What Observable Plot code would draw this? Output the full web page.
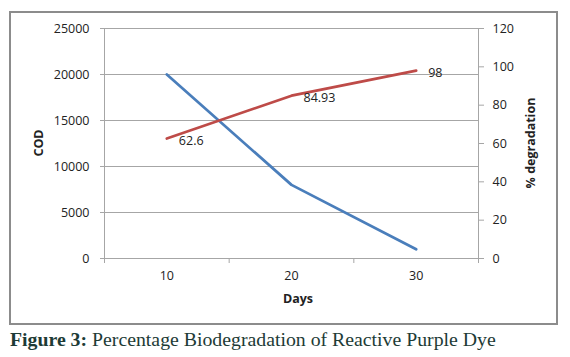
<!DOCTYPE html>
<html>
<head>
<meta charset="utf-8">
<script src="https://cdn.jsdelivr.net/npm/d3@7"></script>
<script src="https://cdn.jsdelivr.net/npm/@observablehq/plot@0.6"></script>
<style>
  html, body { margin: 0; padding: 0; background: #fff; }
  #wrap { position: relative; width: 570px; height: 328px; }
  #caption { font-family: "Liberation Serif", "Times New Roman", serif; font-size: 19.8px; line-height: 22px; color: #1d3b36; margin: 0 0 0 10px; white-space: nowrap; }
  #caption b { font-weight: bold; }
</style>
</head>
<body>
<div id="wrap"></div>
<div id="caption"><b>Figure 3:</b> Percentage Biodegradation of Reactive Purple Dye</div>
<script>
const days = [10, 20, 30];
const cod = [20000, 8000, 1000];
const degradation = [62.6, 84.93, 98];
const leftTicks = [0, 5000, 10000, 15000, 20000, 25000];
const rightTicks = [0, 20, 40, 60, 80, 100, 120];
const xBoundaries = [5, 15, 25, 35];

const yMax = 25000, rMax = 120;
const toY = v => v * yMax / rMax;

const codData = days.map((d, i) => ({day: d, value: cod[i]}));
const degData = days.map((d, i) => ({day: d, pct: degradation[i], value: toY(degradation[i])}));

const font = "'Open Sans', 'Liberation Sans', sans-serif";
const axisColor = "#a6a6a6";

const chart = Plot.plot({
  width: 570,
  height: 328,
  marginLeft: 104,
  marginRight: 92,
  marginTop: 28,
  marginBottom: 70,
  style: {fontFamily: font, fontSize: "12px", color: "#222", background: "#fff"},
  x: {domain: [5, 35], label: null},
  y: {domain: [0, yMax], label: null},
  marks: [
    Plot.gridY(leftTicks.slice(1), {stroke: axisColor, strokeOpacity: 1, strokeWidth: 1}),
    Plot.ruleX([5], {stroke: axisColor}),
    Plot.ruleX([35], {stroke: axisColor}),
    Plot.ruleY([0], {stroke: axisColor}),
    Plot.axisY(leftTicks, {anchor: "left", tickSize: 4, tickPadding: 11, stroke: axisColor, tickFormat: d => String(d), fontSize: 12.5, fill: "#222", label: null}),
    Plot.axisY(rightTicks.map(toY), {anchor: "right", tickSize: 5, tickPadding: 9, stroke: axisColor, tickFormat: d => String(Math.round(d * rMax / yMax)), fontSize: 12.5, fill: "#222", label: null}),
    Plot.axisX(xBoundaries, {tickSize: 5, stroke: axisColor, tickFormat: () => "", label: null}),
    Plot.axisX(days, {tickSize: 0, tickPadding: 13, tickFormat: d => String(d), fontSize: 12.5, fill: "#222", label: null}),
    Plot.line(codData, {x: "day", y: "value", stroke: "#4a7ebb", strokeWidth: 2.75}),
    Plot.line(degData, {x: "day", y: "value", stroke: "#be4b48", strokeWidth: 2.75}),
    Plot.text(degData, {x: "day", y: "value", text: d => String(d.pct), dx: 12, dy: 2, textAnchor: "start", fontSize: 12.5, fill: "#222"})
  ]
});

const svg = d3.select(chart);
svg.style("overflow", "visible");
// Axis titles
svg.append("text").attr("x", 298).attr("y", 303).attr("text-anchor", "middle")
  .attr("font-family", font).attr("font-weight", "bold").attr("font-size", 12.5).attr("fill", "#222").text("Days");
svg.append("text").attr("transform", "translate(43,143) rotate(-90)").attr("text-anchor", "middle")
  .attr("font-family", font).attr("font-weight", "bold").attr("font-size", 12.5).attr("fill", "#222").text("COD");
svg.append("text").attr("transform", "translate(535,143) rotate(-90)").attr("text-anchor", "middle")
  .attr("font-family", font).attr("font-weight", "bold").attr("font-size", 12.5).attr("fill", "#222").text("% degradation");
// Outer chart border
svg.append("rect").attr("x", 10).attr("y", 12).attr("width", 547).attr("height", 312)
  .attr("fill", "none").attr("stroke", "#8c8c8c").attr("stroke-width", 2);

document.getElementById("wrap").appendChild(chart);
</script>
</body>
</html>
